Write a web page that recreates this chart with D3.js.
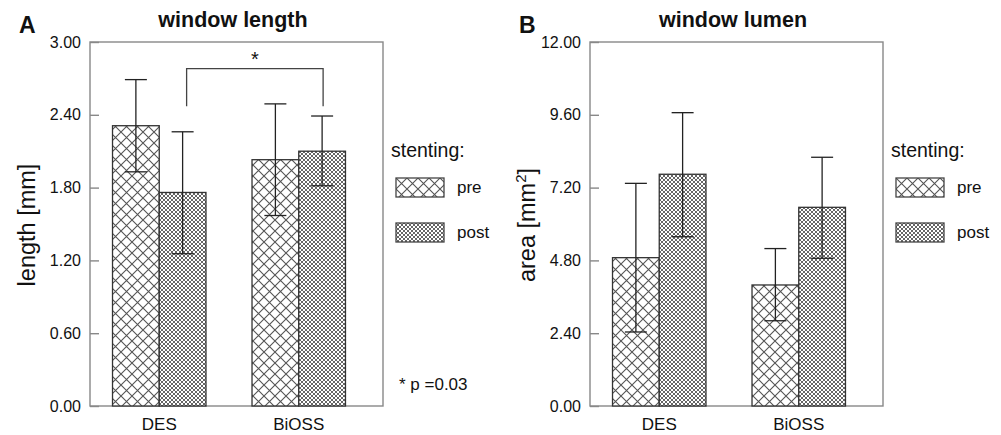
<!DOCTYPE html>
<html>
<head>
<meta charset="utf-8">
<script src="https://cdn.jsdelivr.net/npm/d3@7"></script>
<style>
  body { margin: 0; background: #fff; }
  text { font-family: "Liberation Sans", Arial, Helvetica, sans-serif; fill: #111; }
</style>
</head>
<body>
<div id="chart"></div>
<script>
var svgWidth = 1001, svgHeight = 435;

// data
var groups = ["DES", "BiOSS"];
var series = ["pre", "post"];

var lengthPre = [2.31, 2.03];
var lengthPreLow = [1.93, 1.57];
var lengthPreHigh = [2.69, 2.49];
var lengthPost = [1.76, 2.10];
var lengthPostLow = [1.255, 1.815];
var lengthPostHigh = [2.26, 2.39];
var lengthTicks = [0, 0.6, 1.2, 1.8, 2.4, 3.0];

var lumenPre = [4.89, 3.99];
var lumenPreLow = [2.44, 2.81];
var lumenPreHigh = [7.34, 5.19];
var lumenPost = [7.64, 6.55];
var lumenPostLow = [5.58, 4.87];
var lumenPostHigh = [9.67, 8.20];
var lumenTicks = [0, 2.4, 4.8, 7.2, 9.6, 12.0];

var margin = {top: 42, left: 90, right: 383, bottom: 406};

var svg = d3.select("#chart").append("svg")
    .attr("width", svgWidth)
    .attr("height", svgHeight);

// hatch patterns
var defs = svg.append("defs");
var pPre = defs.append("pattern")
    .attr("id", "hatch-pre")
    .attr("patternUnits", "userSpaceOnUse")
    .attr("width", 11).attr("height", 11);
pPre.append("rect").attr("width", 11).attr("height", 11).attr("fill", "#fff");
pPre.append("path")
    .attr("d", "M0,0L11,11M11,0L0,11M-1,10L1,12M10,-1L12,1")
    .attr("stroke", "#555").attr("stroke-width", 1.1).attr("fill", "none");

var pPost = defs.append("pattern")
    .attr("id", "hatch-post")
    .attr("patternUnits", "userSpaceOnUse")
    .attr("width", 4).attr("height", 4);
pPost.append("rect").attr("width", 4).attr("height", 4).attr("fill", "#fff");
pPost.append("path")
    .attr("d", "M0,0L4,4M4,0L0,4")
    .attr("stroke", "#555").attr("stroke-width", 0.9).attr("fill", "none");

var fills = {pre: "url(#hatch-pre)", post: "url(#hatch-post)"};

function panel(offsetX, opts) {
    var g = svg.append("g").attr("transform", "translate(" + offsetX + ",0)");

    var x = d3.scaleBand()
        .domain(groups)
        .range([89.5, 368.5])
        .paddingInner(0.33)
        .paddingOuter(0.165);

    var x1 = d3.scaleBand()
        .domain(series)
        .range([0, x.bandwidth()]);

    var y = d3.scaleLinear()
        .domain([0, opts.max])
        .range([margin.bottom, margin.top]);

    var rows = [];
    groups.forEach(function(grp, i) {
        rows.push({group: grp, key: "pre", v: opts.pre[i], lo: opts.preLow[i], hi: opts.preHigh[i]});
        rows.push({group: grp, key: "post", v: opts.post[i], lo: opts.postLow[i], hi: opts.postHigh[i]});
    });

    // frame
    g.append("rect")
        .attr("x", margin.left).attr("y", margin.top)
        .attr("width", margin.right - margin.left)
        .attr("height", margin.bottom - margin.top)
        .attr("fill", "none").attr("stroke", "#888").attr("stroke-width", 1.4);

    // y axis (ticks point inward)
    var yAxis = d3.axisRight(y)
        .tickValues(opts.ticks)
        .tickSize(9)
        .tickFormat("");
    g.append("g")
        .attr("transform", "translate(" + margin.left + ",0)")
        .call(yAxis)
        .call(function(s) {
            s.select(".domain").remove();
            s.selectAll("line").attr("stroke", "#888").attr("stroke-width", 1.4);
        });

    g.selectAll(".ylab")
        .data(opts.ticks)
        .enter().append("text")
        .attr("class", "ylab")
        .attr("x", 81)
        .attr("y", function(d) { return y(d) + 5.5; })
        .attr("text-anchor", "end")
        .style("font-size", "16px")
        .text(d3.format(".2f"));

    // bars
    g.selectAll(".bar")
        .data(rows)
        .enter().append("rect")
        .attr("class", "bar")
        .attr("x", function(d) { return x(d.group) + x1(d.key); })
        .attr("y", function(d) { return y(d.v); })
        .attr("width", x1.bandwidth())
        .attr("height", function(d) { return y(0) - y(d.v); })
        .attr("fill", function(d) { return fills[d.key]; })
        .attr("stroke", "#333")
        .attr("stroke-width", 1.3);

    // error bars
    var cap = 11;
    var err = g.selectAll(".err")
        .data(rows)
        .enter().append("g")
        .attr("class", "err")
        .attr("transform", function(d) {
            return "translate(" + (x(d.group) + x1(d.key) + x1.bandwidth() / 2) + ",0)";
        })
        .attr("stroke", "#222")
        .attr("stroke-width", 1.3);
    err.append("line")
        .attr("y1", function(d) { return y(d.lo); })
        .attr("y2", function(d) { return y(d.hi); });
    err.append("line")
        .attr("x1", -cap).attr("x2", cap)
        .attr("y1", function(d) { return y(d.hi); })
        .attr("y2", function(d) { return y(d.hi); });
    err.append("line")
        .attr("x1", -cap).attr("x2", cap)
        .attr("y1", function(d) { return y(d.lo); })
        .attr("y2", function(d) { return y(d.lo); });

    // x labels
    g.selectAll(".xlab")
        .data(groups)
        .enter().append("text")
        .attr("class", "xlab")
        .attr("x", function(d) { return x(d) + x.bandwidth() / 2; })
        .attr("y", 430)
        .attr("text-anchor", "middle")
        .style("font-size", "17px")
        .text(function(d) { return d; });

    // titles
    g.append("text")
        .attr("x", 233).attr("y", 27)
        .attr("text-anchor", "middle")
        .style("font-size", "21.5px").style("font-weight", "bold")
        .text(opts.title);
    g.append("text")
        .attr("x", 19).attr("y", 33)
        .style("font-size", "23px").style("font-weight", "bold")
        .text(opts.letter);

    var yl = g.append("text")
        .attr("transform", "translate(35,225) rotate(-90)")
        .attr("text-anchor", "middle")
        .style("font-size", "23.5px");
    yl.append("tspan").text(opts.yLabel);
    if (opts.sup) {
        yl.append("tspan").attr("dy", -9).style("font-size", "15px").text(opts.sup);
        yl.append("tspan").attr("dy", 9).text("]");
    }

    // legend
    g.append("text")
        .attr("x", 391).attr("y", 157)
        .style("font-size", "19.5px")
        .text("stenting:");
    var leg = g.selectAll(".leg")
        .data(series)
        .enter().append("g")
        .attr("class", "leg")
        .attr("transform", function(d, i) { return "translate(396," + (178 + i * 45) + ")"; });
    leg.append("rect")
        .attr("width", 48).attr("height", 19)
        .attr("fill", function(d) { return fills[d]; })
        .attr("stroke", "#444").attr("stroke-width", 1.3);
    leg.append("text")
        .attr("x", 61).attr("y", 15)
        .style("font-size", "17px")
        .text(function(d) { return d; });

    return {g: g, x: x, x1: x1, y: y};
}

var a = panel(0, {
    max: 3, ticks: lengthTicks, title: "window length", letter: "A",
    yLabel: "length [mm]",
    pre: lengthPre, preLow: lengthPreLow, preHigh: lengthPreHigh,
    post: lengthPost, postLow: lengthPostLow, postHigh: lengthPostHigh
});

panel(500, {
    max: 12, ticks: lumenTicks, title: "window lumen", letter: "B",
    yLabel: "area [mm", sup: "2",
    pre: lumenPre, preLow: lumenPreLow, preHigh: lumenPreHigh,
    post: lumenPost, postLow: lumenPostLow, postHigh: lumenPostHigh
});

// significance bracket between the two post bars
var bx1 = a.x("DES") + a.x1("post") + a.x1.bandwidth() / 2 + 4;
var bx2 = a.x("BiOSS") + a.x1("post") + a.x1.bandwidth() / 2 + 1;
var by = a.y(2.78), byLeg = a.y(2.47);
a.g.append("path")
    .attr("d", "M" + bx1 + "," + byLeg + "V" + by + "H" + bx2 + "V" + byLeg)
    .attr("fill", "none").attr("stroke", "#444").attr("stroke-width", 1.3);
a.g.append("text")
    .attr("x", (bx1 + bx2) / 2).attr("y", 66)
    .attr("text-anchor", "middle")
    .style("font-size", "20px")
    .text("*");
a.g.append("text")
    .attr("x", 399).attr("y", 390)
    .style("font-size", "17px")
    .text("* p =0.03");
</script>
</body>
</html>
